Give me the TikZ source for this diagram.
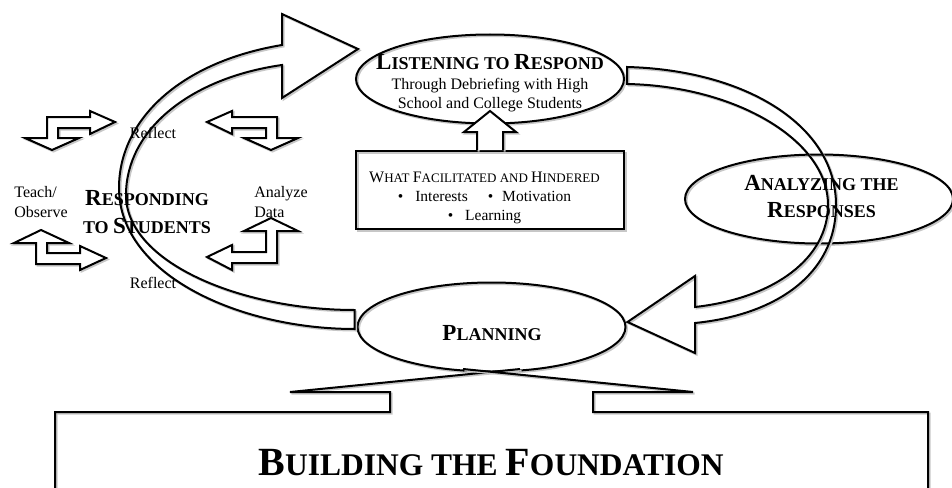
\documentclass[tikz,border=0pt]{standalone}
\usepackage{fontspec}
\setmainfont{Liberation Serif}
\usetikzlibrary{shapes.geometric,calc}
\newcommand\Bg[1]{{\fontsize{23}{23}\selectfont #1}}
\newcommand\Fc[1]{{\fontsize{16}{16}\selectfont #1}}
\newcommand\Hg[1]{{\fontsize{40}{40}\selectfont #1}}
\def\bentTL{(90,111) -- (115,122) -- (90,134) -- (90,128) -- (58,128) -- (58,138) -- (79,138) -- (52,150) -- (25,138) -- (47,138) -- (47,117) -- (90,117) -- cycle}
\def\bentTR{(232,111) -- (207,122) -- (232,134) -- (232,128) -- (266,128) -- (266,138) -- (244,138) -- (271,150) -- (298,138) -- (277,138) -- (277,117) -- (232,117) -- cycle}
\def\bentBR{(271,218) -- (298,231) -- (277,231) -- (277,263) -- (232,263) -- (232,270) -- (207,257) -- (232,245) -- (232,252) -- (266,252) -- (266,231) -- (244,231) -- cycle}
\def\bentBL{(41,230) -- (69,243) -- (47,243) -- (47,253) -- (80,253) -- (80,246) -- (106,258) -- (80,270) -- (80,264) -- (36,264) -- (36,243) -- (14,243) -- cycle}
\begin{document}
\begin{tikzpicture}[x=1pt,y=-1pt,line width=2pt,
  shad/.style={preaction={draw=black!22,transform canvas={shift={(1.5,1.5)}}}},
  oval/.style={ellipse,draw,shad,minimum width=268,minimum height=89,inner sep=0pt},
  title/.style={font=\bfseries\fontsize{18}{27}\selectfont,align=center},
  plain/.style={font=\fontsize{16}{20}\selectfont,align=left}]
\useasboundingbox (0,0) rectangle (952,487);
\node[oval] (listen) at (490,79) {};
\node[oval] (analyze) at (819,199) {};
\node[oval] (plan) at (491.5,327) {};
\node[draw,shad,minimum width=268,minimum height=78,inner sep=0pt] (facil) at (490,190) {};
\draw[shad,fill=white] ($(facil.north)+(-13,0)$) -- ++(0,-18) -- ++(-13,0) -- ++(26,-21) -- ++(26,21) -- ++(-13,0) -- ++(0,18);
\coordinate (lhead) at ($(listen.west)+(3,-30)$);
\coordinate (lendO) at ($(plan.west)+(-2,2)$);
\coordinate (lendI) at ($(plan.west)+(-2,-17)$);
\draw[shad] (282,65) -- (282,98) -- (lhead) -- (282,14) -- (282,45) .. controls (180,62) and (119,120) .. (119,188) .. controls (119,275) and (240,329) .. (lendO) -- (lendI) .. controls (240,310) and (126,262) .. (126,195) .. controls (126,130) and (190,78) .. (282,65) -- cycle;
\coordinate (rtop) at ($(listen.east)+(2,-12)$);
\coordinate (rbot) at ($(listen.east)+(2,5)$);
\coordinate (rhead) at ($(plan.east)+(1,-5)$);
\draw[shad] (rbot) -- (rtop) .. controls (745,70) and (836,125) .. (836,205) .. controls (836,275) and (775,315) .. (695,323) -- (695,353) -- (rhead) -- (695,276) -- (695,307) .. controls (775,298) and (828,258) .. (828,205) .. controls (828,140) and (735,86) .. (rbot) -- cycle;
\draw[shad] (55,495) -- (55,412) -- (390,412) -- (390,392) -- (290,392) -- (520,369);
\draw[shad] (928,495) -- (928,412) -- (593,412) -- (593,392) -- (693,392) -- (463,369);
\draw[shad,fill=white] \bentTL;
\draw[shad,fill=white] \bentTR;
\draw[shad,fill=white] \bentBR;
\draw[shad,fill=white] \bentBL;
\node[align=center,font=\fontsize{16}{19.5}\selectfont] (listentxt) at (490,83.5) {{\bfseries\fontsize{18}{18}\selectfont\Bg{L}ISTENING TO \Bg{R}ESPOND}\\Through Debriefing with High\\School and College Students};
\node[align=center,font=\fontsize{15.5}{19}\selectfont] (facilxt) at (484.5,197.5) {{\fontsize{13}{13}\selectfont\Fc{W}HAT \Fc{F}ACILITATED AND \Fc{H}INDERED}\\\textbullet\hspace{12pt}Interests\hspace{20pt}\textbullet\hspace{9pt}Motivation\\\textbullet\hspace{12pt}Learning};
\node[title] (analyzetxt) at (821.5,196.5) {\Bg{A}NALYZING THE\\\Bg{R}ESPONSES};
\node[title] (plantxt) at (492,333) {\Bg{P}LANNING};
\node[title,font=\bfseries\fontsize{18}{28}\selectfont] (respond) at (147,212) {\Bg{R}ESPONDING\\TO \Bg{S}TUDENTS};
\node[plain,anchor=west] (teach) at (10,202.5) {Teach/\\Observe};
\node[plain,anchor=west] (data) at (250,202) {Analyze\\Data};
\node[font=\fontsize{16}{16}\selectfont] (refltop) at (153,133) {Reflect};
\node[font=\fontsize{16}{16}\selectfont] (reflbot) at (153,283) {Reflect};
\node[font=\bfseries\fontsize{31.5}{31.5}\selectfont] (found) at (491,463) {\Hg{B}UILDING THE \Hg{F}OUNDATION};
\end{tikzpicture}
\end{document}
